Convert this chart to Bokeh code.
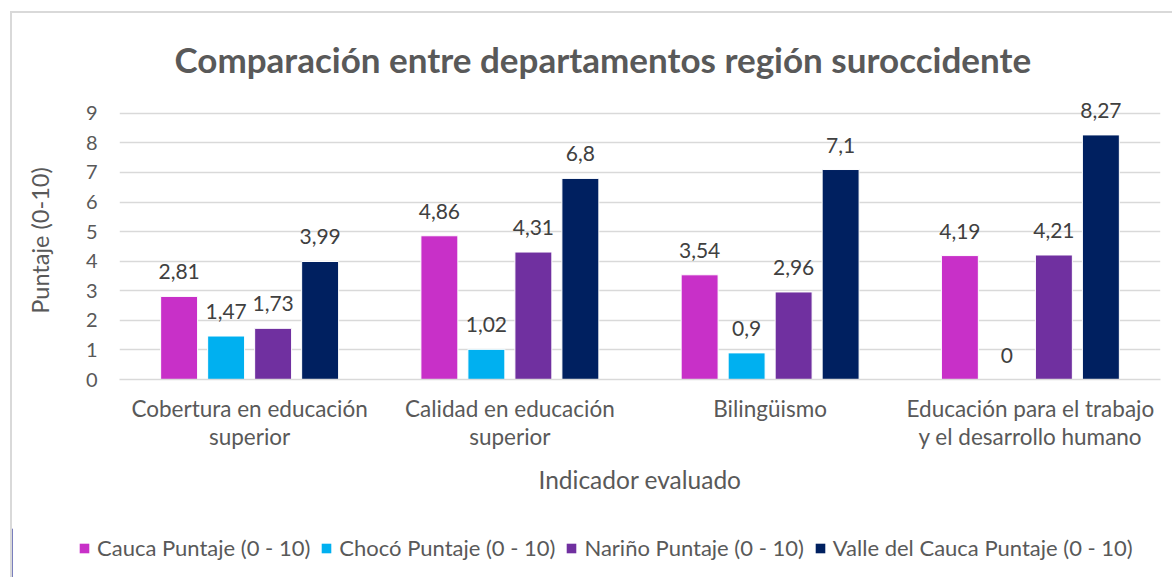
from bokeh.plotting import figure
from bokeh.models import (ColumnDataSource, LabelSet, Legend, LegendItem,
                          FactorRange, FixedTicker)
from bokeh.core.properties import value
from bokeh.transform import dodge
from bokeh.embed import file_html
from bokeh.resources import INLINE

# ---------------- data ----------------
categorias = ["Cobertura en educación\nsuperior",
              "Calidad en educación\nsuperior",
              "Bilingüismo",
              "Educación para el trabajo\ny el desarrollo humano"]
series = ["Cauca Puntaje (0 - 10)", "Chocó Puntaje (0 - 10)",
          "Nariño Puntaje (0 - 10)", "Valle del Cauca Puntaje (0 - 10)"]
cauca = [2.81, 4.86, 3.54, 4.19]
choco = [1.47, 1.02, 0.9, 0]
narino = [1.73, 4.31, 2.96, 4.21]
valle = [3.99, 6.8, 7.1, 8.27]
y_ticks = [0, 1, 2, 3, 4, 5, 6, 7, 8, 9]
titulo = "Comparación entre departamentos región suroccidente"
eje_y = "Puntaje (0-10)"
eje_x = "Indicador evaluado"

# ---------------- style ----------------
colores = ["#C830C8", "#00B0F0", "#7030A0", "#002060"]
FONT = "Lato"
GRAY = "#595959"
GRID = "#D9D9D9"
bar_w = 0.142
step = 0.1806
offsets = [-1.5 * step, -0.5 * step, 0.5 * step, 1.5 * step]

p = figure(width=1162, height=517, output_backend="svg", toolbar_location=None,
           x_range=FactorRange(factors=categorias, range_padding=0),
           y_range=(0, 9.4),
           min_border_left=107, min_border_right=14,
           min_border_top=86, min_border_bottom=151,
           margin=(11, 0, 0, 10),
           styles={"border-left": "2px solid #D9D9D9",
                   "border-top": "2px solid #D9D9D9"})
p.outline_line_color = None
p.background_fill_color = "white"
p.border_fill_color = "white"

valores = [cauca, choco, narino, valle]
for i, vals in enumerate(valores):
    src = ColumnDataSource(dict(cat=categorias, val=vals,
                                txt=[f"{v:g}".replace(".", ",") for v in vals]))
    p.vbar(x=dodge("cat", offsets[i], range=p.x_range), top="val",
           width=bar_w, source=src, fill_color=colores[i],
           line_color="white", line_width=1)
    p.add_layout(LabelSet(x=dodge("cat", offsets[i], range=p.x_range), y="val",
                          text="txt", source=src, y_offset=17,
                          text_align="center", text_baseline="alphabetic",
                          text_font=value(FONT), text_font_size=value("21px"),
                          text_color="#404040"))

# axes
p.yaxis.ticker = FixedTicker(ticks=y_ticks)
p.yaxis.axis_line_color = None
p.yaxis.major_tick_line_color = None
p.yaxis.minor_tick_line_color = None
p.yaxis.major_tick_out = 0
p.yaxis.major_label_standoff = 22
p.yaxis.major_label_text_font = FONT
p.yaxis.major_label_text_font_size = "20px"
p.yaxis.major_label_text_color = GRAY
p.yaxis.axis_label = eje_y
p.yaxis.axis_label_text_font = FONT
p.yaxis.axis_label_text_font_size = "23.5px"
p.yaxis.axis_label_text_font_style = "normal"
p.yaxis.axis_label_text_color = GRAY
p.yaxis.axis_label_standoff = 29

p.xaxis.axis_line_color = GRID
p.xaxis.axis_line_width = 1.3
p.xaxis.major_tick_line_color = None
p.xaxis.minor_tick_line_color = None
p.xaxis.major_tick_out = 0
p.xaxis.major_label_standoff = 15
p.xaxis.major_label_text_font = FONT
p.xaxis.major_label_text_font_size = "22.5px"
p.xaxis.major_label_text_color = GRAY
p.xaxis.major_label_text_line_height = 1.06
p.xaxis.axis_label = eje_x
p.xaxis.axis_label_text_font = FONT
p.xaxis.axis_label_text_font_size = "24.5px"
p.xaxis.axis_label_text_font_style = "normal"
p.xaxis.axis_label_text_color = GRAY
p.xaxis.axis_label_standoff = 12

p.xgrid.grid_line_color = None
p.ygrid.grid_line_color = GRID
p.ygrid.grid_line_width = 1.3

# title
p.title.text = titulo
p.title.align = "left"
p.title.offset = 55
p.title.standoff = 44
p.title.text_font = FONT
p.title.text_font_size = "35px"
p.title.text_font_style = "bold"
p.title.text_color = GRAY

# legend strip: swatches use the series colours; their single bar lies outside the view
lg = figure(width=1162, height=49, output_backend="svg", toolbar_location=None,
            x_range=(0, 1), y_range=(0, 1), x_axis_type=None, y_axis_type=None,
            min_border_left=0, min_border_right=0,
            min_border_top=0, min_border_bottom=0,
            margin=(0, 0, 0, 10),
            styles={"border-left": "2px solid #D9D9D9"})
lg.grid.visible = False
lg.outline_line_color = None
lg.border_fill_color = "white"
lg.background_fill_color = "white"
items = []
for i in range(len(series)):
    r = lg.vbar(x=[-10], top=[1], width=0.1, fill_color=colores[i], line_color=None)
    items.append(LegendItem(label=series[i], renderers=[r]))
legend = Legend(items=items, orientation="horizontal", location=(66, 16),
                glyph_width=12, glyph_height=12, label_standoff=7, spacing=10,
                padding=0, margin=0, border_line_color=None,
                background_fill_alpha=0, label_text_font=FONT,
                label_text_font_size="22px", label_text_color=GRAY)
lg.add_layout(legend, "center")

open("out.html", "w").write(file_html([p, lg], INLINE))
